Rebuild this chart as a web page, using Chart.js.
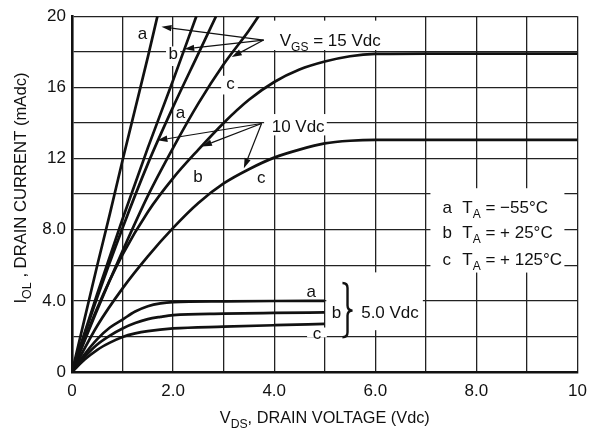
<!DOCTYPE html>
<html>
<head>
<meta charset="utf-8">
<script src="https://cdn.jsdelivr.net/npm/chart.js@4.4.1/dist/chart.umd.min.js"></script>
<style>
  html, body { margin: 0; padding: 0; background: #fff; }
  #wrap { width: 596px; height: 433px; position: relative; }
</style>
</head>
<body>
<div id="wrap"><canvas id="c"></canvas></div>
<script>
// Drain voltage V_DS (Vdc) sample points and drain current I_OL (mAdc) per curve
const vA15 = [0, 0.25, 0.5, 0.75, 1.0, 1.25, 1.5, 1.69];
const iA15 = [0, 3.0, 6.0, 8.9, 11.9, 14.8, 17.7, 20];

const vB15 = [0, 0.5, 1.0, 1.5, 2.0, 2.46];
const iB15 = [0, 4.4, 8.6, 12.6, 16.4, 20];

const vA10 = [0, 0.5, 1.0, 1.5, 2.0, 2.5, 2.85];
const iA10 = [0, 4.2, 8.1, 11.7, 14.9, 17.9, 20];

const vB10 = [0, 0.5, 1.0, 1.5, 2.0, 2.5, 3.0, 3.5, 3.69];
const iB10 = [0, 3.5, 6.8, 9.9, 12.6, 15.1, 17.3, 19.2, 20];

const vC15 = [0, 0.5, 1.0, 1.5, 2.0, 2.5, 3.0, 3.5, 4.0, 4.5, 5.0, 5.5, 6.0, 7.0, 8.0, 9.0, 10.0];
const iC15 = [0, 3.6, 6.6, 9.0, 10.9, 12.5, 14.0, 15.3, 16.3, 17.0, 17.45, 17.75, 17.88, 17.9, 17.9, 17.9, 17.9];

const vC10 = [0, 0.5, 1.0, 1.5, 2.0, 2.5, 3.0, 3.5, 4.0, 4.5, 5.0, 5.5, 6.0, 7.0, 8.0, 9.0, 10.0];
const iC10 = [0, 2.6, 4.7, 6.5, 8.1, 9.5, 10.6, 11.4, 12.05, 12.5, 12.85, 13.0, 13.05, 13.05, 13.05, 13.05, 13.05];

const vA5 = [0, 0.25, 0.5, 0.75, 1.0, 1.25, 1.5, 1.75, 2.0, 3.0, 4.0, 5.0];
const iA5 = [0, 1.0, 1.85, 2.5, 2.95, 3.4, 3.7, 3.86, 3.93, 3.97, 3.99, 4.0];

const vB5 = [0, 0.25, 0.5, 0.75, 1.0, 1.25, 1.5, 1.75, 2.0, 3.0, 4.0, 5.0];
const iB5 = [0, 0.85, 1.55, 2.05, 2.45, 2.75, 2.97, 3.1, 3.2, 3.28, 3.32, 3.35];

const vC5 = [0, 0.25, 0.5, 0.75, 1.0, 1.25, 1.5, 2.0, 3.0, 4.0, 5.0];
const iC5 = [0, 0.7, 1.25, 1.65, 1.97, 2.17, 2.3, 2.45, 2.55, 2.63, 2.7];

// Axis tick values and the text printed under them
const xTickValues = [0, 2, 4, 6, 8, 10];
const xTickText   = ['0', '2.0', '4.0', '6.0', '8.0', '10'];
const yTickValues = [0, 4, 8, 12, 16, 20];
const yTickText   = ['0', '4.0', '8.0', '12', '16', '20'];

const FONT = '"Liberation Sans", Arial, Helvetica, sans-serif';
const INK = '#111';

const curves = [
  { label: '15 Vdc a', v: vA15, i: iA15 },
  { label: '15 Vdc b', v: vB15, i: iB15 },
  { label: '10 Vdc a', v: vA10, i: iA10 },
  { label: '10 Vdc b', v: vB10, i: iB10 },
  { label: '15 Vdc c', v: vC15, i: iC15 },
  { label: '10 Vdc c', v: vC10, i: iC10 },
  { label: '5.0 Vdc a', v: vA5, i: iA5 },
  { label: '5.0 Vdc b', v: vB5, i: iB5 },
  { label: '5.0 Vdc c', v: vC5, i: iC5 }
];

// Areas kept clear of grid lines behind the notes: [v1, v2, iTop, iBottom]
const clearAreas = [
  [3.73, 6.25, 19.75, 18.1],   // V_GS = 15 Vdc
  [3.80, 5.04, 14.5, 13.3],    // 10 Vdc
  [2.95, 3.28, 16.65, 15.6],   // c (15 Vdc)
  [1.86, 2.14, 18.3, 17.2],    // b (15 Vdc)
  [4.65, 5.04, 2.5, 1.95],     // c (5.0 Vdc)
  [5.03, 6.94, 5.6, 2.35],     // brace and 5.0 Vdc
  [7.09, 9.74, 10.33, 5.59]    // temperature key
];

// Notes: text segments anchored at (v, i) on the left baseline
const notes = [
  { segs: [{ t: 'a' }], v: 1.30, i: 18.7 },
  { segs: [{ t: 'b' }], v: 1.91, i: 17.6 },
  { segs: [{ t: 'c' }], v: 3.05, i: 15.9 },
  { segs: [{ t: 'V' }, { t: 'GS', sub: true }, { t: ' = 15 Vdc' }], v: 4.11, i: 18.35 },
  { segs: [{ t: 'a' }], v: 2.05, i: 14.3 },
  { segs: [{ t: 'b' }], v: 2.40, i: 10.7 },
  { segs: [{ t: 'c' }], v: 3.66, i: 10.6 },
  { segs: [{ t: '10 Vdc' }], v: 3.95, i: 13.5 },
  { segs: [{ t: 'a' }], v: 4.64, i: 4.2 },
  { segs: [{ t: 'b' }], v: 5.14, i: 3.05 },
  { segs: [{ t: 'c' }], v: 4.76, i: 1.85 },
  { segs: [{ t: '5.0 Vdc' }], v: 5.72, i: 3.05 },
  { segs: [{ t: 'a' }], v: 7.33, i: 8.95 },
  { segs: [{ t: 'T' }, { t: 'A', sub: true }, { t: ' = \u221255\u00b0C' }], v: 7.72, i: 8.95 },
  { segs: [{ t: 'b' }], v: 7.33, i: 7.55 },
  { segs: [{ t: 'T' }, { t: 'A', sub: true }, { t: ' = + 25\u00b0C' }], v: 7.72, i: 7.55 },
  { segs: [{ t: 'c' }], v: 7.33, i: 6.0 },
  { segs: [{ t: 'T' }, { t: 'A', sub: true }, { t: ' = + 125\u00b0C' }], v: 7.72, i: 6.0 }
];

// Leader arrows: common start point and arrow tips, in (v, i)
const leaderGroups = [
  { from: [3.79, 18.66], tips: [[1.77, 19.4], [2.22, 18.16], [3.16, 17.7]] },
  { from: [3.75, 13.97], tips: [[1.69, 13.02], [2.57, 12.68], [3.40, 11.45]] }
];

// Brace grouping the 5.0 Vdc curves: v left/right, i top/middle/bottom
const brace = { v1: 5.35, v2: 5.55, iTop: 5.0, iMid: 3.45, iBot: 1.95 };

function richWidth(ctx, segs, size) {
  let w = 0;
  for (const s of segs) {
    ctx.font = (s.sub ? Math.round(size * 0.72) : size) + 'px ' + FONT;
    w += ctx.measureText(s.t).width;
  }
  return w;
}

function drawRich(ctx, segs, x, y, size, opts = {}) {
  const w = richWidth(ctx, segs, size);
  const sx = opts.width ? opts.width / w : (opts.sx || 1);
  ctx.save();
  ctx.translate(x, y);
  if (opts.rotate) ctx.rotate(opts.rotate);
  ctx.scale(sx, 1);
  let cx = opts.align === 'center' ? -w / 2 : 0;
  ctx.fillStyle = INK;
  ctx.textAlign = 'left';
  ctx.textBaseline = 'alphabetic';
  for (const s of segs) {
    ctx.font = (s.sub ? Math.round(size * 0.72) : size) + 'px ' + FONT;
    ctx.fillText(s.t, cx, s.sub ? size * 0.3 : 0);
    cx += ctx.measureText(s.t).width;
  }
  ctx.restore();
}

const figureNotes = {
  id: 'figureNotes',
  beforeDatasetsDraw(chart) {
    const { ctx, scales: { x, y } } = chart;
    ctx.save();
    ctx.fillStyle = '#fff';
    for (const [v1, v2, iT, iB] of clearAreas) {
      const x1 = x.getPixelForValue(v1), x2 = x.getPixelForValue(v2);
      const y1 = y.getPixelForValue(iT), y2 = y.getPixelForValue(iB);
      ctx.fillRect(x1, y1, x2 - x1, y2 - y1);
    }
    ctx.restore();
    for (const n of notes) {
      drawRich(ctx, n.segs, x.getPixelForValue(n.v), y.getPixelForValue(n.i), 17);
    }
  },
  afterDatasetsDraw(chart) {
    const { ctx, scales: { x, y } } = chart;
    ctx.save();
    ctx.strokeStyle = INK;
    ctx.fillStyle = INK;
    ctx.lineWidth = 1.2;
    for (const g of leaderGroups) {
      const fx = x.getPixelForValue(g.from[0]), fy = y.getPixelForValue(g.from[1]);
      for (const t of g.tips) {
        const tx = x.getPixelForValue(t[0]), ty = y.getPixelForValue(t[1]);
        const ang = Math.atan2(ty - fy, tx - fx);
        const len = 10, half = 3.2;
        const bx = tx - len * Math.cos(ang), by = ty - len * Math.sin(ang);
        ctx.beginPath();
        ctx.moveTo(fx, fy);
        ctx.lineTo(bx, by);
        ctx.stroke();
        ctx.beginPath();
        ctx.moveTo(tx, ty);
        ctx.lineTo(bx + half * Math.sin(ang), by - half * Math.cos(ang));
        ctx.lineTo(bx - half * Math.sin(ang), by + half * Math.cos(ang));
        ctx.closePath();
        ctx.fill();
      }
    }
    // curly brace
    const x0 = x.getPixelForValue(brace.v1), x1 = x.getPixelForValue(brace.v2);
    const xm = (x0 + x1) / 2;
    const yt = y.getPixelForValue(brace.iTop), ym = y.getPixelForValue(brace.iMid), yb = y.getPixelForValue(brace.iBot);
    const r = 5;
    ctx.lineWidth = 2.4;
    ctx.beginPath();
    ctx.moveTo(x0, yt);
    ctx.quadraticCurveTo(xm, yt, xm, yt + r);
    ctx.lineTo(xm, ym - r);
    ctx.quadraticCurveTo(xm, ym, x1, ym);
    ctx.quadraticCurveTo(xm, ym, xm, ym + r);
    ctx.lineTo(xm, yb - r);
    ctx.quadraticCurveTo(xm, yb, x0, yb);
    ctx.stroke();
    ctx.restore();
  },
  afterDraw(chart) {
    const { ctx, chartArea: a } = chart;
    // x axis title
    drawRich(ctx, [{ t: 'V' }, { t: 'DS', sub: true }, { t: ', DRAIN VOLTAGE (Vdc)' }],
      (a.left + a.right) / 2, 423, 16, { align: 'center', width: 210 });
    // y axis title
    drawRich(ctx, [{ t: 'I' }, { t: 'OL', sub: true }, { t: ' , DRAIN CURRENT (mAdc)' }],
      26, 188, 16, { align: 'center', rotate: -Math.PI / 2, width: 231 });
  }
};

new Chart(document.getElementById('c'), {
  type: 'line',
  data: {
    datasets: curves.map(c => ({
      label: c.label,
      data: c.v.map((v, k) => ({ x: v, y: c.i[k] })),
      borderColor: INK,
      borderWidth: 2.7,
      pointRadius: 0,
      fill: false,
      cubicInterpolationMode: 'monotone'
    }))
  },
  options: {
    responsive: true,
    maintainAspectRatio: false,
    animation: false,
    events: [],
    layout: { padding: { top: 14, right: 15, left: 0, bottom: 0 } },
    plugins: { legend: { display: false }, tooltip: { enabled: false } },
    scales: {
      x: {
        type: 'linear', min: 0, max: 10,
        grid: { color: '#222', lineWidth: 1.3, drawTicks: false },
        border: { color: INK, width: 2.6 },
        ticks: {
          stepSize: 1, autoSkip: false, maxRotation: 0, padding: 9, color: INK,
          font: { family: FONT, size: 17 },
          callback: v => { const k = xTickValues.indexOf(v); return k < 0 ? '' : xTickText[k]; }
        },
        afterFit: s => { s.height = 61; }
      },
      y: {
        type: 'linear', min: 0, max: 20,
        grid: { color: '#222', lineWidth: 1.3, drawTicks: false },
        border: { color: INK, width: 2.6 },
        ticks: {
          stepSize: 2, autoSkip: false, padding: 6, color: INK,
          font: { family: FONT, size: 17 },
          callback: v => { const k = yTickValues.indexOf(v); return k < 0 ? '' : yTickText[k]; }
        },
        afterFit: s => { s.width = 72; }
      }
    }
  },
  plugins: [figureNotes]
});
</script>
</body>
</html>
